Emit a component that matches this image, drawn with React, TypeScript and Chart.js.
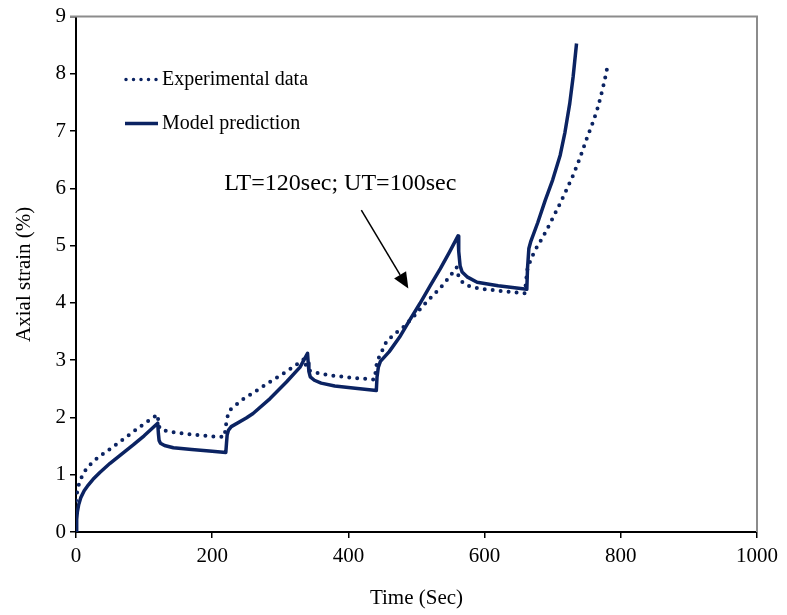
import React, { useEffect, useRef } from "react";
import { Chart, registerables } from "chart.js";

Chart.register(...registerables);

// Experimental data (dotted)
const EXP_TIME = [0, 1, 3, 6, 10, 15, 25, 38, 50, 67, 84, 100, 120, 121, 123, 130, 150, 180, 200, 218, 220, 222, 226, 243, 263, 282, 309, 326, 336, 338, 345, 370, 400, 438, 440, 442, 447, 456, 468, 481, 495, 508, 520, 535, 546, 554, 559, 562, 566, 572, 580, 600, 630, 659, 661, 663, 668, 674, 682, 691, 700, 711, 720, 730, 740, 750, 758, 765, 770, 774, 778, 781];
const EXP_STRAIN = [0.55, 0.65, 0.78, 0.9, 1.0, 1.1, 1.23, 1.35, 1.45, 1.6, 1.75, 1.89, 2.05, 1.9, 1.81, 1.77, 1.73, 1.69, 1.67, 1.66, 1.85, 2.0, 2.13, 2.3, 2.45, 2.6, 2.8, 2.94, 3.03, 2.87, 2.8, 2.74, 2.7, 2.66, 2.8, 2.98, 3.1, 3.33, 3.46, 3.58, 3.75, 3.93, 4.08, 4.26, 4.42, 4.54, 4.62, 4.45, 4.38, 4.32, 4.28, 4.24, 4.2, 4.17, 4.4, 4.6, 4.76, 4.92, 5.08, 5.27, 5.48, 5.74, 5.97, 6.23, 6.53, 6.87, 7.12, 7.36, 7.58, 7.77, 7.98, 8.17];

// Model prediction (solid)
const MODEL_TIME = [0, 1, 2, 4, 7, 12, 18, 25, 35, 50, 67, 84, 100, 120, 121, 122, 124, 130, 143, 170, 200, 220, 221, 222, 224, 228, 250, 260, 285, 309, 329, 340, 341, 342, 344, 350, 360, 380, 410, 441, 442, 444, 447, 460, 475, 490, 505, 520, 535, 548, 561, 562, 564, 567, 575, 589, 620, 662, 663, 665, 668, 678, 689, 700, 711, 718, 725, 730, 735];
const MODEL_STRAIN = [0, 0.22, 0.35, 0.48, 0.6, 0.72, 0.82, 0.92, 1.04, 1.2, 1.36, 1.52, 1.68, 1.9, 1.72, 1.6, 1.55, 1.51, 1.47, 1.44, 1.41, 1.39, 1.55, 1.7, 1.78, 1.84, 1.99, 2.07, 2.33, 2.62, 2.88, 3.12, 2.95, 2.8, 2.71, 2.65, 2.6, 2.55, 2.51, 2.47, 2.7, 2.88, 2.98, 3.15, 3.4, 3.7, 3.99, 4.3, 4.6, 4.88, 5.17, 4.9, 4.65, 4.54, 4.45, 4.36, 4.3, 4.24, 4.6, 4.95, 5.08, 5.4, 5.79, 6.15, 6.58, 6.98, 7.48, 7.95, 8.53];

const X_TICKS = [0, 200, 400, 600, 800, 1000];
const Y_TICKS = [0, 1, 2, 3, 4, 5, 6, 7, 8, 9];

const SERIES_NAMES = ["Experimental data", "Model prediction"];
const ANNOTATION = "LT=120sec; UT=100sec";

const NAVY = "#0b2362";
const FONT = "'Liberation Serif', 'Times New Roman', serif";

const overlayPlugin = {
  id: "overlay",
  afterDraw(chart: any) {
    const { ctx, chartArea } = chart;
    const xs = chart.scales.x;
    const ys = chart.scales.y;
    ctx.save();
    // top & right frame (gray)
    ctx.strokeStyle = "#8c8c8c";
    ctx.lineWidth = 2;
    ctx.beginPath();
    ctx.moveTo(chartArea.left - 6, chartArea.top);
    ctx.lineTo(chartArea.right, chartArea.top);
    ctx.lineTo(chartArea.right, chartArea.bottom);
    ctx.stroke();

    // legend
    const lx0 = chartArea.left + 49;
    const lx1 = chartArea.left + 82;
    const ly1 = chartArea.top + 63;
    const ly2 = chartArea.top + 107;
    ctx.strokeStyle = NAVY;
    ctx.lineCap = "round";
    ctx.lineWidth = 3.5;
    ctx.setLineDash([0, 7.5]);
    ctx.beginPath();
    ctx.moveTo(lx0 + 1, ly1);
    ctx.lineTo(lx1, ly1);
    ctx.stroke();
    ctx.setLineDash([]);
    ctx.lineCap = "butt";
    ctx.beginPath();
    ctx.moveTo(lx0, ly2);
    ctx.lineTo(lx1, ly2);
    ctx.stroke();
    ctx.fillStyle = "#000";
    ctx.font = `20px ${FONT}`;
    ctx.textBaseline = "middle";
    ctx.textAlign = "left";
    ctx.fillText(SERIES_NAMES[0], lx1 + 4, ly1);
    ctx.fillText(SERIES_NAMES[1], lx1 + 4, ly2);

    // annotation text
    ctx.font = `24px ${FONT}`;
    ctx.textAlign = "center";
    ctx.fillText(ANNOTATION, xs.getPixelForValue(388), ys.getPixelForValue(6.09));

    // arrow
    const ax0 = xs.getPixelForValue(419);
    const ay0 = ys.getPixelForValue(5.62);
    const ax1 = xs.getPixelForValue(488);
    const ay1 = ys.getPixelForValue(4.25);
    ctx.strokeStyle = "#000";
    ctx.lineWidth = 1.5;
    const ang = Math.atan2(ay1 - ay0, ax1 - ax0);
    const hl = 16, hw = 7;
    const bx = ax1 - hl * Math.cos(ang);
    const by = ay1 - hl * Math.sin(ang);
    ctx.beginPath();
    ctx.moveTo(ax0, ay0);
    ctx.lineTo(bx, by);
    ctx.stroke();
    ctx.fillStyle = "#000";
    ctx.beginPath();
    ctx.moveTo(ax1, ay1);
    ctx.lineTo(bx + hw * Math.sin(ang), by - hw * Math.cos(ang));
    ctx.lineTo(bx - hw * Math.sin(ang), by + hw * Math.cos(ang));
    ctx.closePath();
    ctx.fill();
    ctx.restore();
  },
};

export default function App() {
  const ref = useRef<HTMLCanvasElement | null>(null);
  useEffect(() => {
    if (!ref.current) return;
    const expData = EXP_TIME.map((t, i) => ({ x: t, y: EXP_STRAIN[i] }));
    const modelData = MODEL_TIME.map((t, i) => ({ x: t, y: MODEL_STRAIN[i] }));
    const chart = new Chart(ref.current, {
      type: "line",
      data: {
        datasets: [
          {
            label: SERIES_NAMES[0],
            data: expData,
            borderColor: NAVY,
            borderWidth: 4,
            borderDash: [0, 8],
            borderCapStyle: "round",
            borderJoinStyle: "round",
            pointRadius: 0,
            tension: 0,
            fill: false,
          },
          {
            label: SERIES_NAMES[1],
            data: modelData,
            borderColor: NAVY,
            borderWidth: 3.5,
            borderJoinStyle: "round",
            pointRadius: 0,
            tension: 0,
            fill: false,
          },
        ],
      },
      options: {
        responsive: false,
        animation: false,
        events: [],
        layout: { padding: { top: 16, right: 30, left: 0, bottom: 0 } },
        plugins: { legend: { display: false }, tooltip: { enabled: false } },
        scales: {
          x: {
            type: "linear",
            min: 0,
            max: 1000,
            afterFit: (s: any) => { s.height = 83; },
            afterBuildTicks: (s: any) => { s.ticks = X_TICKS.map((v) => ({ value: v })); },
            border: { display: true, color: "#000", width: 2 },
            grid: { drawOnChartArea: false, drawTicks: true, tickLength: 6, color: "#000", lineWidth: 1.5 },
            ticks: { color: "#000", padding: 6, font: { family: FONT, size: 21 }, maxRotation: 0, callback: (v: any) => String(v) },
            title: { display: true, text: "Time (Sec)", color: "#000", font: { family: FONT, size: 21 }, padding: { top: 0, bottom: 4 } },
          },
          y: {
            type: "linear",
            min: 0,
            max: 9,
            afterFit: (s: any) => { s.width = 76; },
            afterBuildTicks: (s: any) => { s.ticks = Y_TICKS.map((v) => ({ value: v })); },
            border: { display: true, color: "#000", width: 2 },
            grid: { drawOnChartArea: false, drawTicks: true, tickLength: 6, color: "#000", lineWidth: 1.5 },
            ticks: { color: "#000", padding: 4, font: { family: FONT, size: 21 }, callback: (v: any) => String(v) },
            title: { display: true, text: "Axial strain (%)", color: "#000", font: { family: FONT, size: 21 }, padding: { top: 12, bottom: 0 } },
          },
        },
      },
      plugins: [overlayPlugin],
    });
    return () => chart.destroy();
  }, []);
  return (
    <div style={{ position: "fixed", left: 0, top: 0, width: 787, height: 615, background: "#fff" }}>
      <canvas ref={ref} width={787} height={615} />
    </div>
  );
}
